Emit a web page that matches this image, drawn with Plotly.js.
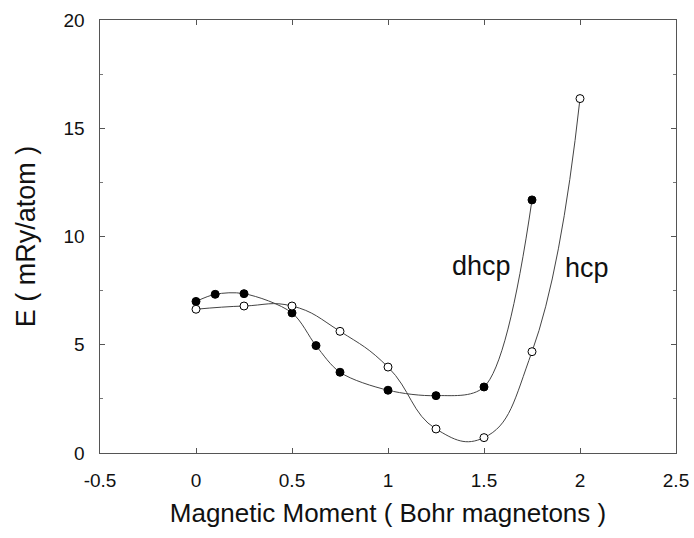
<!DOCTYPE html>
<html><head><meta charset="utf-8">
<script src="https://cdn.plot.ly/plotly-3.0.1.min.js"></script>
<style>html,body{margin:0;padding:0;background:#fff}#chart{width:694px;height:538px}</style>
</head><body><div id="chart"></div>
<script>
const dhcpX = [0, 0.1, 0.25, 0.5, 0.625, 0.75, 1.0, 1.25, 1.5, 1.75];
const dhcpE = [7.0, 7.33, 7.36, 6.47, 4.96, 3.73, 2.90, 2.65, 3.05, 11.69];
const hcpX = [0, 0.25, 0.5, 0.75, 1.0, 1.25, 1.5, 1.75, 2.0];
const hcpE = [6.64, 6.79, 6.79, 5.62, 3.97, 1.11, 0.71, 4.68, 16.37];
const labels = [{text: 'dhcp', x: 1.488, y: 8.65}, {text: 'hcp', x: 2.035, y: 8.55}];

const font = 'Liberation Sans, Arial, sans-serif';
const traces = [
  {x: dhcpX, y: dhcpE, mode: 'lines+markers', name: 'dhcp',
   line: {shape: 'spline', smoothing: 0.9, color: '#444', width: 1},
   marker: {size: 8, color: '#000', line: {color: '#000', width: 1}}},
  {x: hcpX, y: hcpE, mode: 'lines+markers', name: 'hcp',
   line: {shape: 'spline', smoothing: 1.3, color: '#444', width: 1},
   marker: {size: 8, color: '#fff', line: {color: '#000', width: 1}}}
];
const axisCommon = {showline: true, linecolor: '#555', linewidth: 1, mirror: 'ticks',
  ticks: 'inside', ticklen: 5, tickcolor: '#555', showgrid: false, zeroline: false,
  tickfont: {family: font, size: 19, color: '#111'}};
const layout = {
  width: 694, height: 538,
  margin: {l: 100, r: 18, t: 20, b: 85},
  paper_bgcolor: '#fff', plot_bgcolor: '#fff',
  showlegend: false,
  font: {family: font},
  xaxis: Object.assign({}, axisCommon, {range: [-0.5, 2.5],
    tickvals: [-0.5, 0, 0.5, 1, 1.5, 2, 2.5], ticktext: ['-0.5', '0', '0.5', '1', '1.5', '2', '2.5'],
    ticklabelstandoff: 10,
    title: {text: 'Magnetic Moment ( Bohr magnetons )', font: {family: font, size: 26, color: '#111'}, standoff: 14}}),
  yaxis: Object.assign({}, axisCommon, {range: [0, 20], dtick: 5,
    ticksuffix: '\u00a0\u00a0',
    minor: {dtick: 2.5, ticklen: 3, tickcolor: '#777', ticks: 'inside'},
    title: {text: 'E ( mRy/atom )', font: {family: font, size: 27, color: '#111'}, standoff: 20}}),
  annotations: labels.map(l => ({x: l.x, y: l.y, xref: 'x', yref: 'y', text: l.text,
    showarrow: false, font: {family: font, size: 27, color: '#111'}}))
};
Plotly.newPlot('chart', traces, layout, {staticPlot: true});
</script></body></html>
